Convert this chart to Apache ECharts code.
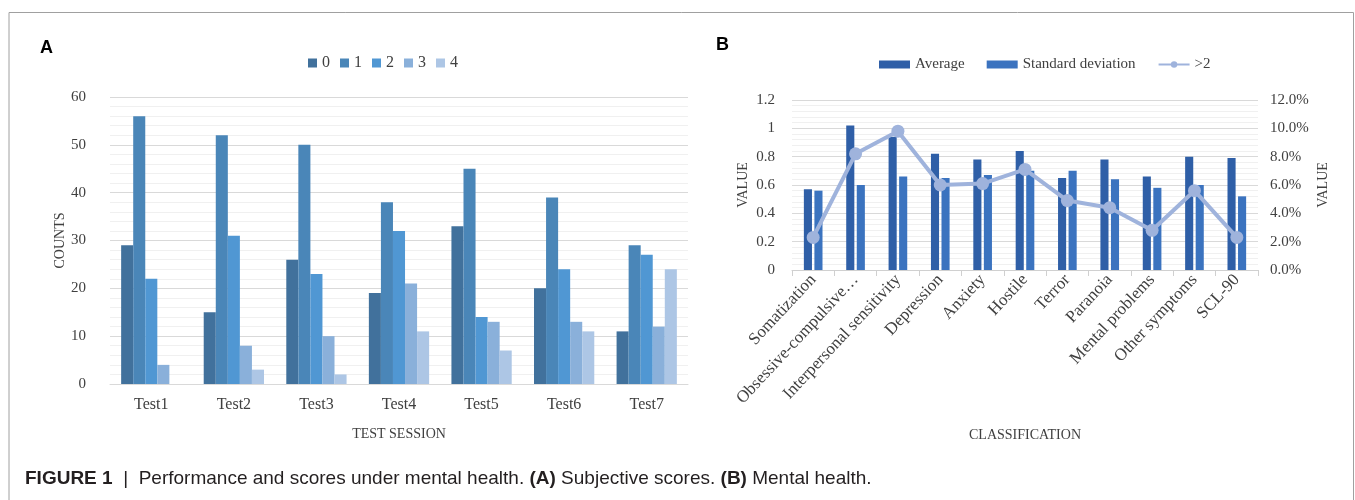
<!DOCTYPE html>
<html>
<head>
<meta charset="utf-8">
<script src="https://cdn.jsdelivr.net/npm/echarts@6/dist/echarts.min.js"></script>
<style>html,body{margin:0;padding:0;background:#fff;}#c{width:1355px;height:500px;}</style>
</head>
<body>
<div id="c"></div>
<script>
// Panel A data
var testSessions = ['Test1','Test2','Test3','Test4','Test5','Test6','Test7'];
var scoreNames = ['0','1','2','3','4'];
var score0 = [29, 15, 26, 19, 33, 20, 11];
var score1 = [56, 52, 50, 38, 45, 39, 29];
var score2 = [22, 31, 23, 32, 14, 24, 27];
var score3 = [4, 8, 10, 21, 13, 13, 12];
var score4 = [0, 3, 2, 11, 7, 11, 24];
// Panel B data
var classifications = ['Somatization','Obsessive-compulsive…','Interpersonal sensitivity','Depression','Anxiety','Hostile','Terror','Paranoia','Mental problems','Other symptoms','SCL-90'];
var averageVals = [0.57, 1.02, 0.94, 0.82, 0.78, 0.84, 0.65, 0.78, 0.66, 0.80, 0.79];
var sdVals = [0.56, 0.60, 0.66, 0.65, 0.67, 0.70, 0.70, 0.64, 0.58, 0.60, 0.52];
var over2Pct = [2.3, 8.2, 9.8, 6.0, 6.1, 7.1, 4.9, 4.4, 2.8, 5.6, 2.3];

var serif = '"Liberation Serif", "DejaVu Serif", serif';
var colorsA = ['#41719c', '#4a86b8', '#5097d3', '#8ab0da', '#adc6e5'];
var scoreData = [score0, score1, score2, score3, score4];

var chart = echarts.init(document.getElementById('c'));
var seriesA = scoreNames.map(function (n, i) {
  return {
    name: n, type: 'bar', xAxisIndex: 0, yAxisIndex: 0,
    data: scoreData[i], barGap: '0%', barCategoryGap: '27%',
    itemStyle: { color: colorsA[i] }
  };
});

var option = {
  animation: false,
  backgroundColor: '#fff',
  textStyle: { fontFamily: serif },
  legend: [
    {
      data: scoreNames, left: 303, top: 50, itemWidth: 9, itemHeight: 9, itemGap: 10,
      icon: 'rect', textStyle: { fontFamily: serif, fontSize: 16, color: '#404040' }
    },
    {
      data: [
        { name: 'Average', icon: 'rect' },
        { name: 'Standard deviation', icon: 'rect' },
        { name: '>2' }
      ],
      left: 874, top: 52, itemWidth: 31, itemHeight: 8, itemGap: 22,
      textStyle: { fontFamily: serif, fontSize: 15, color: '#404040' }
    }
  ],
  grid: [
    { left: 110, top: 97, width: 578, height: 287 },
    { left: 792, top: 100, width: 466, height: 170 }
  ],
  xAxis: [
    {
      type: 'category', gridIndex: 0, data: testSessions,
      axisLine: { lineStyle: { color: '#d9d9d9' } }, axisTick: { show: false },
      axisLabel: { fontFamily: serif, fontSize: 16, color: '#404040', margin: 13 },
      name: 'TEST SESSION', nameLocation: 'middle', nameGap: 43,
      nameTextStyle: { fontFamily: serif, fontSize: 14, color: '#404040' }
    },
    {
      type: 'category', gridIndex: 1, data: classifications,
      axisLine: { lineStyle: { color: '#d0d0d0' } },
      axisTick: { show: true, alignWithLabel: false, length: 6, lineStyle: { color: '#d0d0d0' } },
      axisLabel: { fontFamily: serif, fontSize: 17, color: '#404040', rotate: 47, interval: 0, margin: 7 },
      name: 'CLASSIFICATION', nameLocation: 'middle', nameGap: 158,
      nameTextStyle: { fontFamily: serif, fontSize: 14, color: '#404040' }
    }
  ],
  yAxis: [
    {
      type: 'value', gridIndex: 0, min: 0, max: 60, interval: 10,
      axisLine: { show: false }, axisTick: { show: false },
      axisLabel: { fontFamily: serif, fontSize: 15, color: '#404040', margin: 24 },
      splitLine: { lineStyle: { color: '#d9d9d9' } },
      minorTick: { show: false, splitNumber: 5 },
      minorSplitLine: { show: true, lineStyle: { color: '#f0f0f0' } },
      name: 'COUNTS', nameLocation: 'middle', nameGap: 42,
      nameTextStyle: { fontFamily: serif, fontSize: 14, color: '#404040' }
    },
    {
      type: 'value', gridIndex: 1, min: 0, max: 1.2, interval: 0.2,
      axisLine: { show: false }, axisTick: { show: false },
      axisLabel: { fontFamily: serif, fontSize: 15, color: '#404040', margin: 17 },
      splitLine: { lineStyle: { color: '#d9d9d9' } },
      minorTick: { show: false, splitNumber: 5 },
      minorSplitLine: { show: true, lineStyle: { color: '#f0f0f0' } },
      name: 'VALUE', nameLocation: 'middle', nameGap: 42,
      nameTextStyle: { fontFamily: serif, fontSize: 14, color: '#404040' }
    },
    {
      type: 'value', gridIndex: 1, min: 0, max: 12, interval: 2, position: 'right',
      axisLine: { show: false }, axisTick: { show: false },
      axisLabel: { fontFamily: serif, fontSize: 15, color: '#404040', margin: 12,
        formatter: function (v) { return v.toFixed(1) + '%'; } },
      splitLine: { show: false },
      name: 'VALUE', nameLocation: 'middle', nameGap: 58,
      nameTextStyle: { fontFamily: serif, fontSize: 14, color: '#404040' }
    }
  ],
  series: seriesA.concat([
    {
      name: 'Average', type: 'bar', xAxisIndex: 1, yAxisIndex: 1, data: averageVals,
      barGap: '30%', barCategoryGap: '56%', itemStyle: { color: '#2f5fa7' }
    },
    {
      name: 'Standard deviation', type: 'bar', xAxisIndex: 1, yAxisIndex: 1, data: sdVals,
      barGap: '30%', barCategoryGap: '56%', itemStyle: { color: '#3b73bf' }
    },
    {
      name: '>2', type: 'line', xAxisIndex: 1, yAxisIndex: 2, data: over2Pct,
      symbol: 'circle', symbolSize: 13,
      lineStyle: { color: '#9fb3dc', width: 4 },
      itemStyle: { color: '#9fb3dc' }
    }
  ]),
  graphic: [
    {
      type: 'polyline', shape: { points: [[9, 500], [9, 12.5], [1353.5, 12.5], [1353.5, 500]] },
      style: { stroke: '#a0a0a0', lineWidth: 1, fill: null }, silent: true
    },
    {
      type: 'text', left: 40, top: 39,
      style: { text: 'A', font: 'bold 18px "Liberation Sans", Arial, sans-serif', fill: '#000' }
    },
    {
      type: 'text', left: 716, top: 36,
      style: { text: 'B', font: 'bold 18px "Liberation Sans", Arial, sans-serif', fill: '#000' }
    },
    {
      type: 'text', left: 25, top: 469,
      style: {
        text: '{b|FIGURE 1}{n|  |  Performance and scores under mental health. }{b|(A)}{n| Subjective scores. }{b|(B)}{n| Mental health.}',
        rich: {
          b: { fontFamily: '"Liberation Sans", Arial, sans-serif', fontWeight: 'bold', fontSize: 19, fill: '#231f20' },
          n: { fontFamily: '"Liberation Sans", Arial, sans-serif', fontSize: 19, fill: '#231f20' }
        }
      }
    }
  ]
};
chart.setOption(option);
</script>
</body>
</html>
